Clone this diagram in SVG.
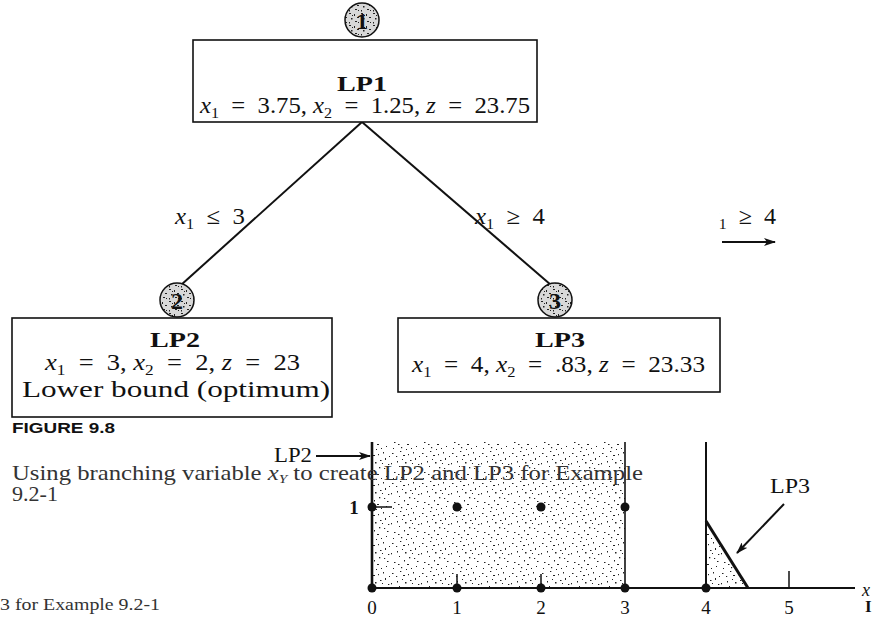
<svg xmlns="http://www.w3.org/2000/svg" width="880" height="624" viewBox="0 0 880 624">
<defs>
<style>
.serif{font-family:"Liberation Serif","Times New Roman",serif;fill:#111}
.ttl{font-weight:bold;font-size:21px}
.math{font-size:23px}
.it{font-style:italic}
.box{fill:#fff;stroke:#111;stroke-width:1.6}
.edge{stroke:#111;stroke-width:2;fill:none}
.num{font-family:"Liberation Serif",serif;font-weight:bold;font-size:24px;fill:#111}
.axis{stroke:#111;fill:none}
.cap{font-family:"Liberation Serif","Noto Serif CJK KR",serif;fill:#333}
</style>
<pattern id="stip" width="30" height="30" patternUnits="userSpaceOnUse">
<rect width="30" height="30" fill="#fff"/>
<g fill="#222">
<rect x="2" y="3" width="1.5" height="1"/><rect x="7" y="11" width="1" height="1.5"/><rect x="13" y="5" width="2" height="1"/><rect x="19" y="17" width="1.3" height="1.3"/><rect x="25" y="8" width="1" height="2"/><rect x="4" y="22" width="1.5" height="1"/><rect x="11" y="27" width="1.2" height="1.2"/><rect x="17" y="24" width="2" height="1"/><rect x="23" y="2" width="1" height="1.5"/><rect x="28" y="14" width="1.3" height="1"/><rect x="9" y="16" width="1" height="1"/><rect x="15" y="12" width="1.5" height="1.5"/><rect x="21" y="28" width="1" height="1"/><rect x="27" y="21" width="1.5" height="1"/><rect x="1" y="13" width="1" height="1.3"/><rect x="6" y="6" width="1.2" height="1"/><rect x="14" y="20" width="1" height="1.5"/><rect x="20" y="10" width="1.5" height="1"/><rect x="26" y="26" width="1" height="1"/><rect x="10" y="1" width="1.3" height="1"/><rect x="3" y="28" width="1" height="1"/><rect x="18" y="4" width="1" height="1.2"/><rect x="24" y="18" width="1.2" height="1"/><rect x="12" y="9" width="1" height="1"/><rect x="29" y="6" width="1" height="1"/><rect x="8" y="24" width="1.5" height="1"/><rect x="16" y="29" width="1" height="1"/><rect x="22" y="13" width="1" height="1"/>
</g>
</pattern>
<pattern id="dense" width="12" height="12" patternUnits="userSpaceOnUse">
<rect width="12" height="12" fill="#d8d8d8"/>
<g fill="#222">
<rect x="1" y="1" width="2" height="1"/><rect x="6" y="2" width="1" height="2"/><rect x="9" y="5" width="2" height="1"/><rect x="3" y="6" width="1.5" height="1.5"/><rect x="7" y="9" width="2" height="1"/><rect x="1" y="10" width="1" height="1.5"/><rect x="10" y="10" width="1" height="1"/><rect x="4" y="3" width="1" height="1"/>
</g>
</pattern>
<marker id="arr" markerWidth="12" markerHeight="8" refX="11" refY="4" orient="auto" markerUnits="userSpaceOnUse">
<path d="M0,0 L12,4 L0,8 L3,4 Z" fill="#111"/>
</marker>
<clipPath id="cutR"><rect x="719" y="190" width="161" height="70"/></clipPath>
</defs>
<rect width="880" height="624" fill="#fff"/>

<g id="connectors">
<line class="edge" x1="362" y1="122" x2="181" y2="285"/>
<line class="edge" x1="362" y1="122" x2="551" y2="285"/>
<text class="serif math" x="175" y="224" textLength="70" lengthAdjust="spacingAndGlyphs"><tspan class="it">x</tspan><tspan font-size="15" dy="5">1</tspan><tspan dy="-5">&#8194;≤&#8194;3</tspan></text>
<text class="serif math" x="475" y="224" textLength="70" lengthAdjust="spacingAndGlyphs"><tspan class="it">x</tspan><tspan font-size="15" dy="5">1</tspan><tspan dy="-5">&#8194;≥&#8194;4</tspan></text>
</g>

<g id="partial-branch" clip-path="url(#cutR)">
<text class="serif math" x="708" y="224" textLength="68" lengthAdjust="spacingAndGlyphs"><tspan class="it">x</tspan><tspan font-size="15" dy="5">1</tspan><tspan dy="-5">&#8194;≥&#8194;4</tspan></text>
<line class="edge" x1="722" y1="242" x2="775" y2="242" marker-end="url(#arr)"/>
</g>

<g id="node1">
<circle cx="362" cy="20" r="17" fill="url(#dense)" stroke="#111" stroke-width="1.5"/>
<text class="num" x="362" y="29" text-anchor="middle">1</text>
<rect class="box" x="193" y="40" width="344" height="82"/>
<text class="serif ttl" x="337" y="91" textLength="50" lengthAdjust="spacingAndGlyphs">LP1</text>
<text class="serif math" x="200" y="113" textLength="330" lengthAdjust="spacingAndGlyphs"><tspan class="it">x</tspan><tspan font-size="15" dy="5">1</tspan><tspan dy="-5">&#8194;=&#8194;3.75, </tspan><tspan class="it">x</tspan><tspan font-size="15" dy="5">2</tspan><tspan dy="-5">&#8194;=&#8194;1.25, </tspan><tspan class="it">z</tspan><tspan>&#8194;=&#8194;23.75</tspan></text>
</g>

<g id="node2">
<circle cx="177" cy="300" r="17" fill="url(#dense)" stroke="#111" stroke-width="1.5"/>
<text class="num" x="177" y="309" text-anchor="middle">2</text>
<rect class="box" x="12" y="318" width="320" height="99"/>
<text class="serif ttl" x="150" y="347" textLength="50" lengthAdjust="spacingAndGlyphs">LP2</text>
<text class="serif math" x="45" y="370" textLength="255" lengthAdjust="spacingAndGlyphs"><tspan class="it">x</tspan><tspan font-size="15" dy="5">1</tspan><tspan dy="-5">&#8194;=&#8194;3, </tspan><tspan class="it">x</tspan><tspan font-size="15" dy="5">2</tspan><tspan dy="-5">&#8194;=&#8194;2, </tspan><tspan class="it">z</tspan><tspan>&#8194;=&#8194;23</tspan></text>
<text class="serif" font-size="23" x="22" y="397" textLength="308" lengthAdjust="spacingAndGlyphs">Lower bound (optimum)</text>
</g>

<g id="node3">
<circle cx="555" cy="300" r="17" fill="url(#dense)" stroke="#111" stroke-width="1.5"/>
<text class="num" x="555" y="309" text-anchor="middle">3</text>
<rect class="box" x="398" y="318" width="322" height="74"/>
<text class="serif ttl" x="535" y="347" textLength="50" lengthAdjust="spacingAndGlyphs">LP3</text>
<text class="serif math" x="412" y="372" textLength="293" lengthAdjust="spacingAndGlyphs"><tspan class="it">x</tspan><tspan font-size="15" dy="5">1</tspan><tspan dy="-5">&#8194;=&#8194;4, </tspan><tspan class="it">x</tspan><tspan font-size="15" dy="5">2</tspan><tspan dy="-5">&#8194;=&#8194;.83, </tspan><tspan class="it">z</tspan><tspan>&#8194;=&#8194;23.33</tspan></text>
</g>

<g id="graph">
<rect x="372" y="442" width="253" height="146" fill="url(#stip)"/>
<polygon points="706,521 706,588 748,588" fill="url(#stip)"/>
<line class="axis" x1="625" y1="442" x2="625" y2="588" stroke-width="1.6"/>
<line class="axis" x1="706" y1="442" x2="706" y2="588" stroke-width="2"/>
<line class="axis" x1="706" y1="521" x2="748" y2="588" stroke-width="3"/>
<line class="axis" x1="372" y1="442" x2="372" y2="590" stroke-width="2.6"/>
<line class="axis" x1="372" y1="588" x2="855" y2="588" stroke-width="2"/>
<line class="axis" x1="457" y1="574" x2="457" y2="588" stroke-width="1.5"/>
<line class="axis" x1="541" y1="574" x2="541" y2="588" stroke-width="1.5"/>
<line class="axis" x1="789" y1="571" x2="789" y2="588" stroke-width="1.5"/>
<line class="axis" x1="376" y1="507" x2="392" y2="507" stroke-width="1.5"/>
<g fill="#111">
<circle cx="372" cy="588" r="4.5"/><circle cx="457" cy="588" r="4.5"/><circle cx="541" cy="588" r="4.5"/><circle cx="625" cy="588" r="4.5"/><circle cx="706" cy="588" r="4.5"/>
<circle cx="372" cy="507" r="4.5"/><circle cx="457" cy="507" r="4.5"/><circle cx="541" cy="507" r="4.5"/><circle cx="625" cy="507" r="4.5"/>
</g>
<g class="serif" font-size="19" text-anchor="middle">
<text x="372" y="614">0</text><text x="457" y="614">1</text><text x="541" y="614">2</text><text x="625" y="614">3</text><text x="706" y="614">4</text><text x="789" y="614">5</text>
<text x="354" y="514" font-weight="bold">1</text>
</g>
<text class="serif" font-size="20" x="274" y="462" textLength="38" lengthAdjust="spacingAndGlyphs">LP2</text>
<line class="edge" x1="316" y1="456" x2="370" y2="456" stroke-width="2" marker-end="url(#arr)"/>
<text class="serif" font-size="20" x="770" y="493" textLength="40" lengthAdjust="spacingAndGlyphs">LP3</text>
<line class="edge" x1="784" y1="504" x2="737" y2="553" stroke-width="1.6" marker-end="url(#arr)"/>
<text class="serif it" font-size="18" fill="#777" x="862" y="596">x</text>
<text class="serif" font-size="17" font-weight="bold" x="865" y="612">I</text>
</g>

<g id="caption">
<text x="12" y="433" font-family="'Liberation Sans',Arial,sans-serif" font-weight="900" font-size="15" fill="#111" textLength="103" lengthAdjust="spacingAndGlyphs">FIGURE 9.8</text>
<text class="cap" x="12" y="480" font-size="21" textLength="631" lengthAdjust="spacingAndGlyphs">Using branching variable <tspan font-style="italic">x<tspan font-size="13" dy="3">Y</tspan></tspan><tspan dy="-3"> to create LP2 and LP3 for Example</tspan></text>
<text class="cap" x="12" y="501" font-size="21" textLength="46" lengthAdjust="spacingAndGlyphs">9.2-1</text>
<text class="cap" x="0" y="610" font-size="17" textLength="160" lengthAdjust="spacingAndGlyphs">3 for Example 9.2-1</text>
</g>
</svg>
